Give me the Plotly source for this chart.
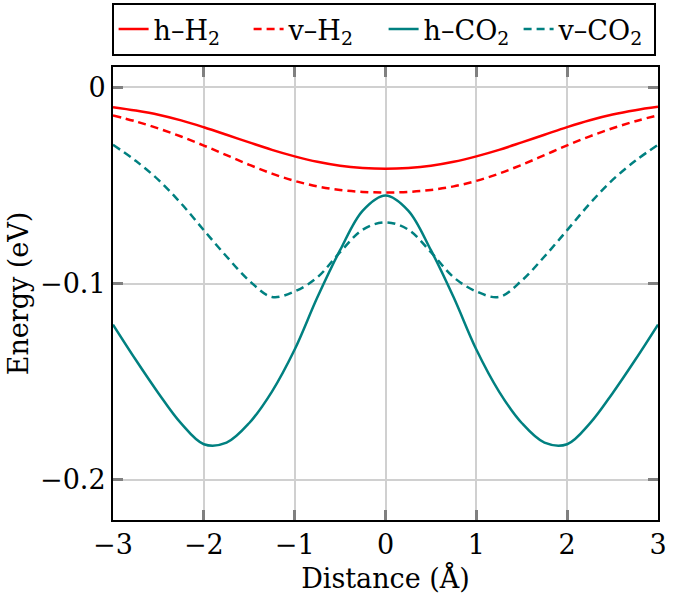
import plotly.graph_objects as go

# Distance (Å)
distance = [-3.0, -2.75, -2.5, -2.25, -2.0, -1.75, -1.5, -1.25, -1.0, -0.75, -0.5, -0.25, 0.0,
            0.25, 0.5, 0.75, 1.0, 1.25, 1.5, 1.75, 2.0, 2.25, 2.5, 2.75, 3.0]

# Energies (eV)
h_H2 = [-0.0102, -0.0119, -0.0140, -0.0169, -0.0204, -0.0242, -0.0281, -0.0319, -0.0352, -0.0380, -0.0400, -0.0411, -0.0415,
        -0.0411, -0.0400, -0.0380, -0.0352, -0.0319, -0.0281, -0.0242, -0.0203, -0.0168, -0.0139, -0.0117, -0.0100]
v_H2 = [-0.0144, -0.0174, -0.0210, -0.0251, -0.0297, -0.0346, -0.0395, -0.0440, -0.0477, -0.0505, -0.0523, -0.0533, -0.0536,
        -0.0533, -0.0523, -0.0505, -0.0477, -0.0440, -0.0395, -0.0346, -0.0296, -0.0250, -0.0209, -0.0173, -0.0143]
h_CO2 = [-0.1209, -0.1388, -0.1558, -0.1712, -0.1818, -0.1810, -0.1710, -0.1550, -0.1336, -0.1070, -0.0830, -0.0628, -0.0551,
         -0.0628, -0.0830, -0.1070, -0.1336, -0.1550, -0.1710, -0.1810, -0.1818, -0.1712, -0.1558, -0.1388, -0.1209]
v_CO2 = [-0.0293, -0.0375, -0.0472, -0.0592, -0.0728, -0.0862, -0.0985, -0.1068, -0.1040, -0.0968, -0.0840, -0.0725, -0.0688,
         -0.0725, -0.0840, -0.0968, -0.1040, -0.1068, -0.0985, -0.0862, -0.0728, -0.0592, -0.0472, -0.0375, -0.0293]

series_names = ["h–H<sub>2</sub>", "v–H<sub>2</sub>", "h–CO<sub>2</sub>", "v–CO<sub>2</sub>"]

x_ticks = [-3, -2, -1, 0, 1, 2, 3]
y_ticks = [0, -0.1, -0.2]
y_tick_labels = ["0", "−0.1", "−0.2"]

RED = "#ff0000"
TEAL = "#008080"
FONT = "DejaVu Serif"
FS = 27

fig = go.Figure()
styles = [(h_H2, RED, "solid"), (v_H2, RED, "8px,5px"), (h_CO2, TEAL, "solid"), (v_CO2, TEAL, "8px,5px")]
for name, (vals, col, dash) in zip(series_names, styles):
    fig.add_trace(go.Scatter(
        x=distance, y=vals, mode="lines", name=name,
        line=dict(color=col, width=2.5, dash=dash, shape="spline", smoothing=1.0),
    ))

axis_common = dict(
    showgrid=True, gridcolor="#d0d0d0", gridwidth=1.5,
    showline=True, linecolor="black", linewidth=2, mirror="ticks",
    ticks="inside", ticklen=10, tickwidth=2.5, tickcolor="#808080",
    zeroline=False,
    tickfont=dict(family=FONT, size=FS, color="black"),
)

fig.update_xaxes(
    range=[-3, 3], tickvals=x_ticks,
    title=dict(text="Distance (Å)", font=dict(family=FONT, size=FS, color="black"), standoff=10),
    **axis_common,
)
fig.update_yaxes(
    range=[-0.2204, 0.0103], tickvals=y_ticks, ticktext=y_tick_labels,
    title=dict(text="Energy (eV)", font=dict(family=FONT, size=FS, color="black"), standoff=4),
    **axis_common,
)

fig.update_layout(
    width=685, height=610,
    margin=dict(l=113, r=27, t=67, b=90, autoexpand=False),
    plot_bgcolor="white", paper_bgcolor="white",
    font=dict(family=FONT, size=FS, color="black"),
    showlegend=True,
    legend=dict(
        orientation="h", xref="container", x=0.560, xanchor="center",
        yref="container", y=0.995, yanchor="top",
        bordercolor="black", borderwidth=2, bgcolor="white",
        font=dict(family=FONT, size=FS, color="black"),
        itemwidth=30, tracegroupgap=0, entrywidth=90,
    ),
)

fig.write_html("out.html", config={"displayModeBar": False},
               post_script="document.body.style.margin='0';")
